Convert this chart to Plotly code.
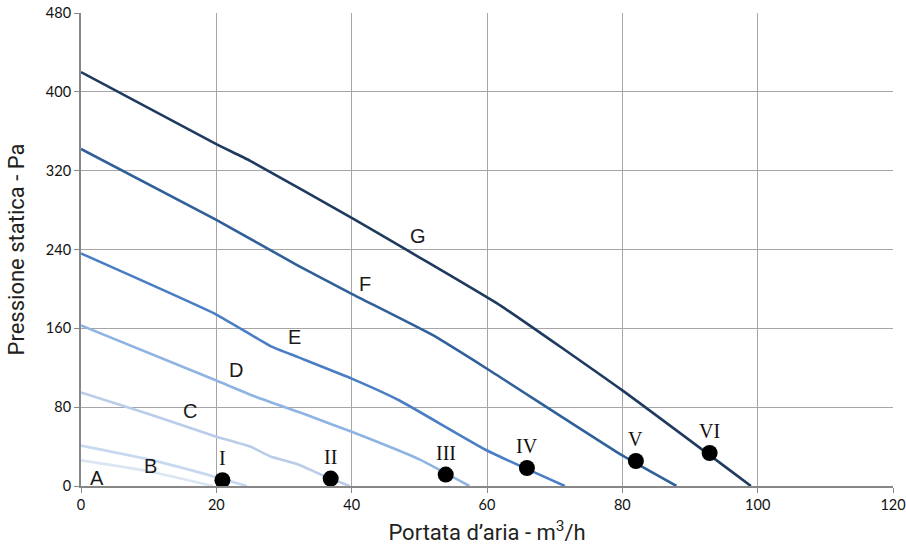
import plotly.graph_objects as go

# ---- data ----
curve_names = ["A", "B", "C", "D", "E", "F", "G"]
A_x = [0, 10, 19.5]
A_y = [26, 15, 0]
B_x = [0, 10, 20, 24.5]
B_y = [41, 27, 9, 0]
C_x = [0, 10, 20, 25, 28, 32, 36, 39.7]
C_y = [95, 73, 50, 40, 30, 22, 10, 0]
D_x = [0, 20, 26, 33, 40, 50, 57.4]
D_y = [163, 107, 90, 73, 55, 27, 0]
E_x = [0, 20, 28, 32, 40, 47, 60, 71.5]
E_y = [236, 174, 142, 131, 109, 87, 36, 0]
F_x = [0, 20, 32, 40, 52, 60, 80, 88]
F_y = [342, 270, 224, 195, 153, 119, 31, 0]
G_x = [0, 20, 25, 40, 62, 80, 99]
G_y = [420, 347, 330, 272, 183, 97, 0]

curve_colors = ["#dce6f2", "#c6d9f1", "#b9cde8", "#8eb4e3", "#4a7ec4", "#30609a", "#1f3a5f"]

label_x = [2.4, 10.2, 16.1, 22.9, 31.5, 42.0, 49.8]
label_y = [8, 20, 76, 118, 151, 205, 254]

point_names = ["I", "II", "III", "IV", "V", "VI"]
point_x = [20.9, 36.9, 53.9, 65.9, 82.0, 92.9]
point_y = [5.8, 7.5, 11.6, 18.3, 25.4, 33.5]

x_ticks = [0, 20, 40, 60, 80, 100, 120]
y_ticks = [0, 80, 160, 240, 320, 400, 480]

xs = [A_x, B_x, C_x, D_x, E_x, F_x, G_x]
ys = [A_y, B_y, C_y, D_y, E_y, F_y, G_y]

fig = go.Figure()
for name, cx, cy, col in zip(curve_names, xs, ys, curve_colors):
    fig.add_trace(go.Scatter(x=cx, y=cy, mode="lines", name=name,
                             line=dict(color=col, width=2.6, shape="spline", smoothing=0.4),
                             showlegend=False, hoverinfo="skip"))

fig.add_trace(go.Scatter(x=point_x, y=point_y, mode="markers",
                         marker=dict(color="black", size=16),
                         showlegend=False, hoverinfo="skip"))

annotations = []
for t, lx, ly in zip(curve_names, label_x, label_y):
    annotations.append(dict(x=lx, y=ly, xref="x", yref="y", text=t, showarrow=False,
                            font=dict(family="Liberation Sans, Arial", size=20, color="#1a1a1a")))
for t, px, py in zip(point_names, point_x, point_y):
    annotations.append(dict(x=px, y=py, xref="x", yref="y", text=t, showarrow=False,
                            yshift=22,
                            font=dict(family="Liberation Serif, Times New Roman", size=20, color="#111111")))

fig.update_layout(
    width=906, height=551,
    margin=dict(l=81, r=13, t=13, b=65),
    paper_bgcolor="white", plot_bgcolor="white",
    annotations=annotations,
    font=dict(family="Lato, Liberation Sans", size=14, color="#111111"),
)
fig.update_xaxes(range=[0, 120], tickvals=x_ticks, showgrid=True, gridcolor="#a6a6a6", gridwidth=1,
                 showline=True, linecolor="#878787", linewidth=2, ticks="outside", ticklen=5,
                 tickcolor="#878787", zeroline=False, mirror=False, automargin=False,
                 tickfont=dict(family="Lato, Liberation Sans", size=14.5, color="#111111"),
                 title=dict(text="Portata d’aria - m<sup>3</sup>/h",
                            font=dict(family="Roboto", size=22, color="#231f20"),
                            standoff=12))
fig.update_yaxes(range=[0, 480], tickvals=y_ticks, showgrid=True, gridcolor="#a6a6a6", gridwidth=1,
                 showline=True, linecolor="#878787", linewidth=2, ticks="outside", ticklen=5,
                 tickcolor="#878787", zeroline=False, automargin=False,
                 tickfont=dict(family="Lato, Liberation Sans", size=14.5, color="#111111"),
                 title=dict(text="Pressione statica - Pa",
                            font=dict(family="Roboto", size=22, color="#231f20"),
                            standoff=15))

fig.write_html("out.html", config={"displayModeBar": False},
               post_script="document.body.style.margin='0';document.body.style.overflow='hidden';")
